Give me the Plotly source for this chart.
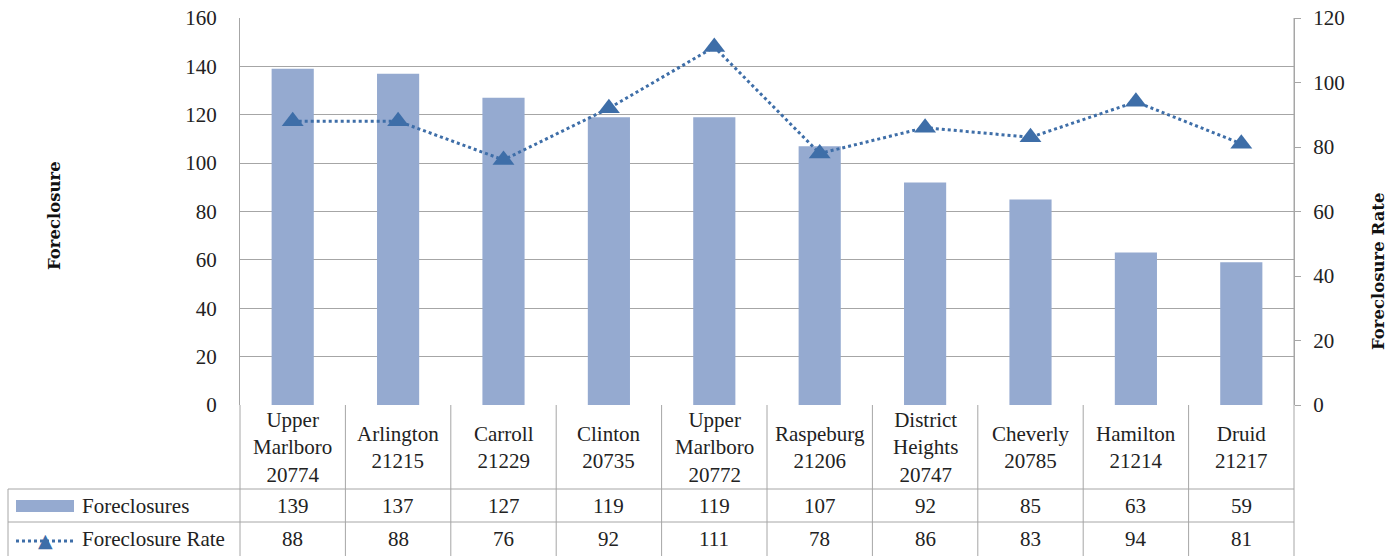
import plotly.graph_objects as go

# Neighbourhoods (name + ZIP) and their figures
neighbourhoods = [
    "Upper<br>Marlboro<br>20774", "Arlington<br>21215", "Carroll<br>21229",
    "Clinton<br>20735", "Upper<br>Marlboro<br>20772", "Raspeburg<br>21206",
    "District<br>Heights<br>20747", "Cheverly<br>20785", "Hamilton<br>21214",
    "Druid<br>21217",
]
foreclosures = [139, 137, 127, 119, 119, 107, 92, 85, 63, 59]
foreclosure_rate = [88, 88, 76, 92, 111, 78, 86, 83, 94, 81]

left_ticks = [0, 20, 40, 60, 80, 100, 120, 140, 160]
right_ticks = [0, 20, 40, 60, 80, 100, 120]

BAR = "#95AAD0"
LINE = "#3E6EA8"
GRID = "#A6A6A6"
FONT = "'Liberation Serif', 'Times New Roman', serif"
TITLE_FONT = "'DejaVu Serif', serif"
TXT = "#222222"

W, H = 1400, 556
L, R, T, B = 240, 1294, 18, 405   # plot box in pixels


def px(xp):
    return (xp - L) / (R - L)


def py(yp):
    return (B - yp) / (B - T)


n = len(neighbourhoods)
xs = list(range(n))

fig = go.Figure()
fig.add_trace(go.Bar(
    x=xs, y=foreclosures, name="Foreclosures",
    marker=dict(color=BAR, line=dict(width=0)),
    width=0.4, yaxis="y",
))
fig.add_trace(go.Scatter(
    x=xs, y=foreclosure_rate, name="Foreclosure Rate", yaxis="y2",
    mode="lines+markers",
    line=dict(color=LINE, width=3, dash="dot"),
    marker=dict(symbol="triangle-up", size=19, color=LINE),
))

shapes = []
annotations = []

# Data table grid below the plot
line_style = dict(color=GRID, width=1)
row_top, row_mid1, row_mid2, row_bot = B, 489, 522, 556
for yy in (row_mid1, row_mid2):
    shapes.append(dict(type="line", xref="paper", yref="paper",
                       x0=px(8), x1=1, y0=py(yy), y1=py(yy), line=line_style))
shapes.append(dict(type="line", xref="paper", yref="paper",
                   x0=px(8), x1=px(8), y0=py(row_mid1), y1=py(row_bot), line=line_style))
shapes.append(dict(type="line", xref="paper", yref="paper",
                   x0=0, x1=0, y0=0, y1=py(row_bot), line=line_style))
shapes.append(dict(type="line", xref="paper", yref="paper",
                   x0=1, x1=1, y0=1, y1=py(row_bot), line=line_style))
for i in range(1, n):
    shapes.append(dict(type="line", xref="x", yref="paper",
                       x0=i - 0.5, x1=i - 0.5, y0=0, y1=py(row_bot), line=line_style))

cat_y = py(447)
r1_y = py((row_mid1 + row_mid2) / 2)
r2_y = py((row_mid2 + row_bot) / 2)
cell_font = dict(family=FONT, size=21, color=TXT)
for i, (name, f, r) in enumerate(zip(neighbourhoods, foreclosures, foreclosure_rate)):
    for yy, txt in ((cat_y, name), (r1_y, str(f)), (r2_y, str(r))):
        annotations.append(dict(x=i, y=yy, xref="x", yref="paper", text=txt,
                                showarrow=False, font=cell_font,
                                xanchor="center", yanchor="middle"))

# Legend keys inside the table
shapes.append(dict(type="rect", xref="paper", yref="paper",
                   x0=px(16), x1=px(74), y0=py(512), y1=py(500),
                   fillcolor=BAR, line=dict(width=0)))
shapes.append(dict(type="line", xref="paper", yref="paper",
                   x0=px(16), x1=px(74), y0=py(541), y1=py(541),
                   line=dict(color=LINE, width=3, dash="dot")))
annotations.append(dict(x=px(45), y=py(540), xref="paper", yref="paper", text="▲",
                        showarrow=False, font=dict(size=19, color=LINE, family="DejaVu Sans"),
                        xanchor="center", yanchor="middle"))
annotations.append(dict(x=px(80), y=r1_y, xref="paper", yref="paper", text="Foreclosures",
                        showarrow=False, font=cell_font, xanchor="left", yanchor="middle"))
annotations.append(dict(x=px(80), y=r2_y, xref="paper", yref="paper", text="Foreclosure Rate",
                        showarrow=False, font=cell_font, xanchor="left", yanchor="middle"))

# Axis titles
title_font = dict(family=TITLE_FONT, size=16.5, color="#111111")
annotations.append(dict(x=px(54), y=py(216), xref="paper", yref="paper",
                        text="<b>Foreclosure</b>", textangle=-90, showarrow=False,
                        font=title_font, xanchor="center", yanchor="middle"))
annotations.append(dict(x=px(1378), y=py(272), xref="paper", yref="paper",
                        text="<b>Foreclosure Rate</b>", textangle=-90, showarrow=False,
                        font=title_font, xanchor="center", yanchor="middle"))

fig.update_layout(
    width=W, height=H,
    margin=dict(l=L, r=W - R, t=T, b=H - B, autoexpand=False),
    paper_bgcolor="white", plot_bgcolor="white",
    showlegend=False,
    font=dict(family=FONT, size=21, color=TXT),
    xaxis=dict(range=[-0.5, n - 0.5], showticklabels=False, showgrid=False,
               zeroline=False, showline=False, ticks=""),
    yaxis=dict(range=[0, 160], tickvals=left_ticks, showgrid=True, gridcolor=GRID,
               gridwidth=1, zeroline=False, showline=True, linecolor=GRID,
               ticks="", ticklabelstandoff=18, automargin=False,
               tickfont=dict(family=FONT, size=21, color=TXT)),
    yaxis2=dict(range=[0, 120], tickvals=right_ticks, overlaying="y", side="right",
                showgrid=False, zeroline=False, showline=True, linecolor=GRID,
                ticks="outside", ticklen=6, tickcolor=GRID, ticklabelstandoff=8,
                automargin=False,
                tickfont=dict(family=FONT, size=21, color=TXT)),
    shapes=shapes,
    annotations=annotations,
)

fig.write_html("out.html")
